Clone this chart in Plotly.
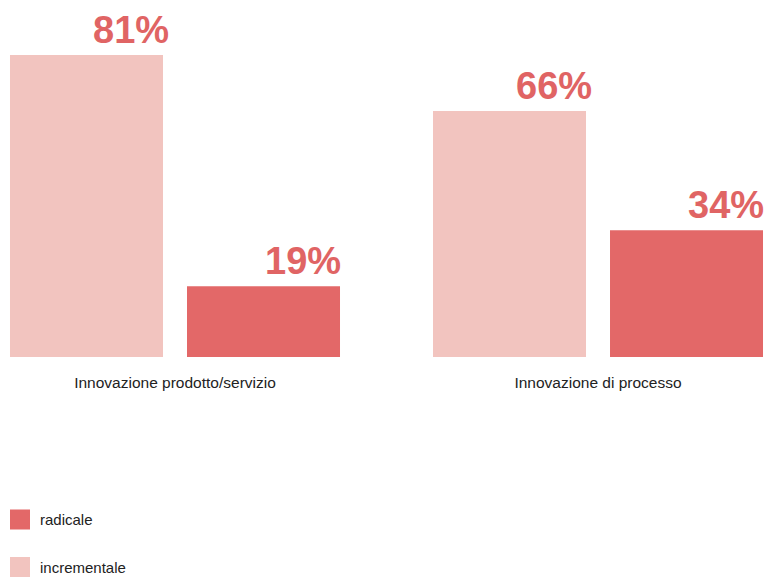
import plotly.graph_objects as go

categories = ["Innovazione prodotto/servizio", "Innovazione di processo"]
incrementale = [81, 66]
radicale = [19, 34]
series_names = ["incrementale", "radicale"]
colors = {"incrementale": "#F2C4BF", "radicale": "#E36868"}
label_color = "#E06464"

fig = go.Figure()
series_values = {"incrementale": incrementale, "radicale": radicale}
for name in series_names:
    fig.add_trace(go.Bar(x=categories, y=series_values[name], name=name,
                         marker=dict(color=colors[name], line=dict(width=0)),
                         showlegend=False))

# legend swatches
for name in ["radicale", "incrementale"]:
    fig.add_trace(go.Scatter(x=[None], y=[None], mode="markers", name=name,
                             legendgroup=name,
                             marker=dict(symbol="square", size=20, color=colors[name],
                                         line=dict(width=4, color=colors[name]))))

# value labels, right-aligned to each bar's right edge
shifts = {"incrementale": -4, "radicale": 168}
for name in series_names:
    for c, v in zip(categories, series_values[name]):
        fig.add_annotation(x=c, y=v, text=f"<b>{v}%</b>", showarrow=False,
                           xanchor="right", yanchor="bottom",
                           xshift=shifts[name], yshift=2,
                           font=dict(family="Liberation Sans, Arial", size=38, color=label_color))

fig.update_layout(
    width=767, height=577,
    margin=dict(l=0, r=0, t=0, b=220, autoexpand=False),
    paper_bgcolor="white", plot_bgcolor="white",
    barmode="group", bargap=0.1631, bargroupgap=0.1356,
    font=dict(family="Liberation Sans, Arial", size=15, color="#222222"),
    xaxis=dict(range=[-0.4137, 1.3995], showgrid=False, zeroline=False, showline=False,
               ticks="", ticklabelstandoff=14, tickfont=dict(size=15.5, color="#222222")),
    yaxis=dict(range=[0, 95.75], visible=False, showgrid=False, zeroline=False),
    legend=dict(x=0, y=-0.41, xanchor="left", yanchor="top", orientation="v",
                tracegroupgap=25, itemsizing="trace",
                font=dict(size=15, color="#222222"), bgcolor="rgba(0,0,0,0)"),
)

fig.write_html("out.html")
